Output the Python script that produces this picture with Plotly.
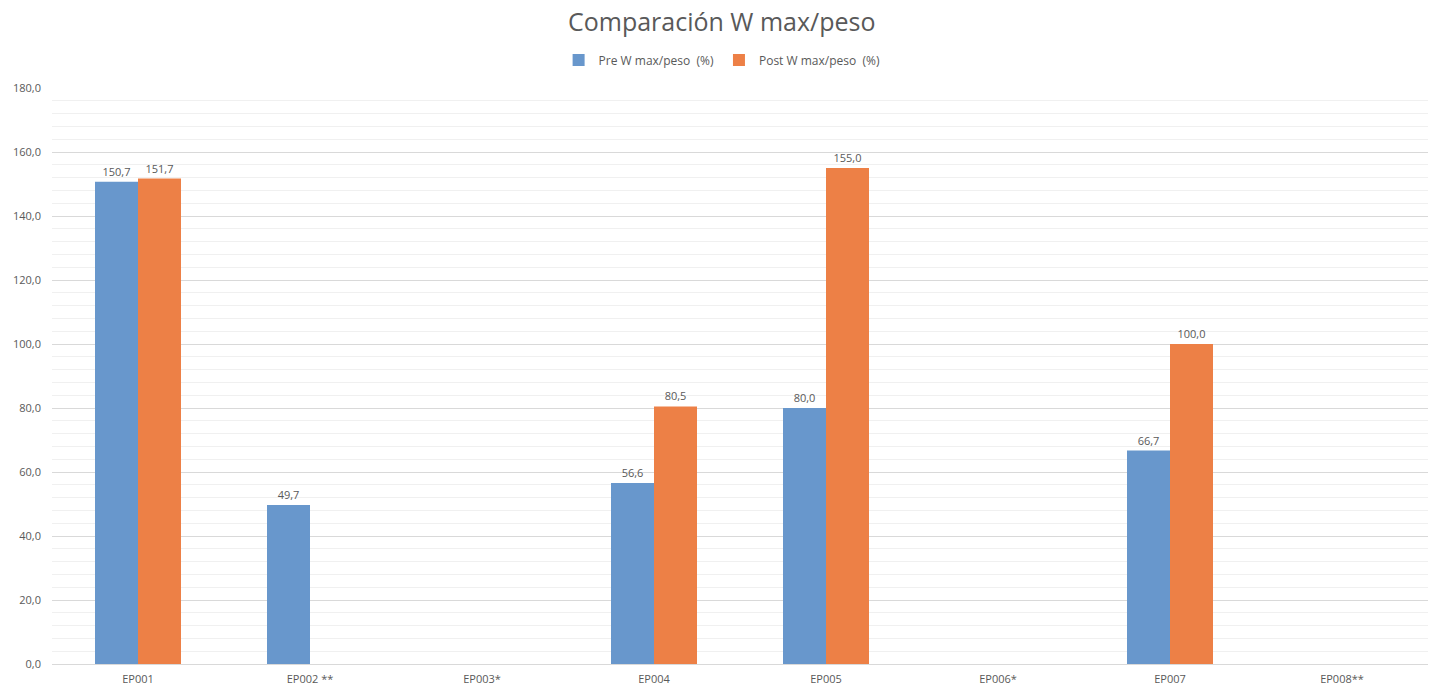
import plotly.graph_objects as go

# Chart data
categories = ["EP001", "EP002 **", "EP003*", "EP004", "EP005", "EP006*", "EP007", "EP008**"]
pre_values = [150.7, 49.7, None, 56.6, 80.0, None, 66.7, None]
post_values = [151.7, None, None, 80.5, 155.0, None, 100.0, None]
y_ticks = [0, 20, 40, 60, 80, 100, 120, 140, 160, 180]

BLUE = "#6897CC"
ORANGE = "#ED8046"
TEXT = "#595959"
FONT = "Open Sans"
H = 689

fig = go.Figure()
fig.add_trace(go.Bar(
    name="Pre W max/peso  (%)", x=categories, y=pre_values,
    marker=dict(color=BLUE, line=dict(width=0)),
    texttemplate="%{y:.1f}", textposition="outside",
    textfont=dict(size=11, color=TEXT, family=FONT), cliponaxis=False,
))
fig.add_trace(go.Bar(
    name="Post W max/peso  (%)", x=categories, y=post_values,
    marker=dict(color=ORANGE, line=dict(width=0)),
    texttemplate="%{y:.1f}", textposition="outside",
    textfont=dict(size=11, color=TEXT, family=FONT), cliponaxis=False,
))

fig.update_layout(
    width=1432, height=H,
    margin=dict(l=52, r=4, t=88, b=25),
    paper_bgcolor="white", plot_bgcolor="white",
    separators=",.",
    barmode="group", bargap=0.5, bargroupgap=0,
    font=dict(family=FONT, color=TEXT),
    title=dict(text="Comparación W max/peso", x=0.504, xanchor="center",
               y=1 - 22 / H, yref="container", yanchor="middle",
               font=dict(size=25, color="#595959", family=FONT)),
    legend=dict(orientation="h", x=0.487, xanchor="center",
                y=1 - 60 / H, yref="container", yanchor="middle",
                font=dict(size=12, color=TEXT, family=FONT),
                itemwidth=30, traceorder="normal"),
    showlegend=True,
)

fig.update_yaxes(
    range=[0, 180], tickvals=y_ticks, tickformat=".1f",
    showgrid=True, gridcolor="#D9D9D9", gridwidth=1,
    minor=dict(dtick=4, showgrid=True, gridcolor="#F0F0F0", gridwidth=1),
    zeroline=False, showline=False, ticks="",
    ticklabelstandoff=10,
    tickfont=dict(size=11, color=TEXT, family=FONT),
)
fig.update_xaxes(
    showline=True, linecolor="#D9D9D9", linewidth=1,
    showgrid=False, ticks="",
    ticklabelstandoff=5,
    tickfont=dict(size=11, color=TEXT, family=FONT),
)

fig.write_html("out.html")
